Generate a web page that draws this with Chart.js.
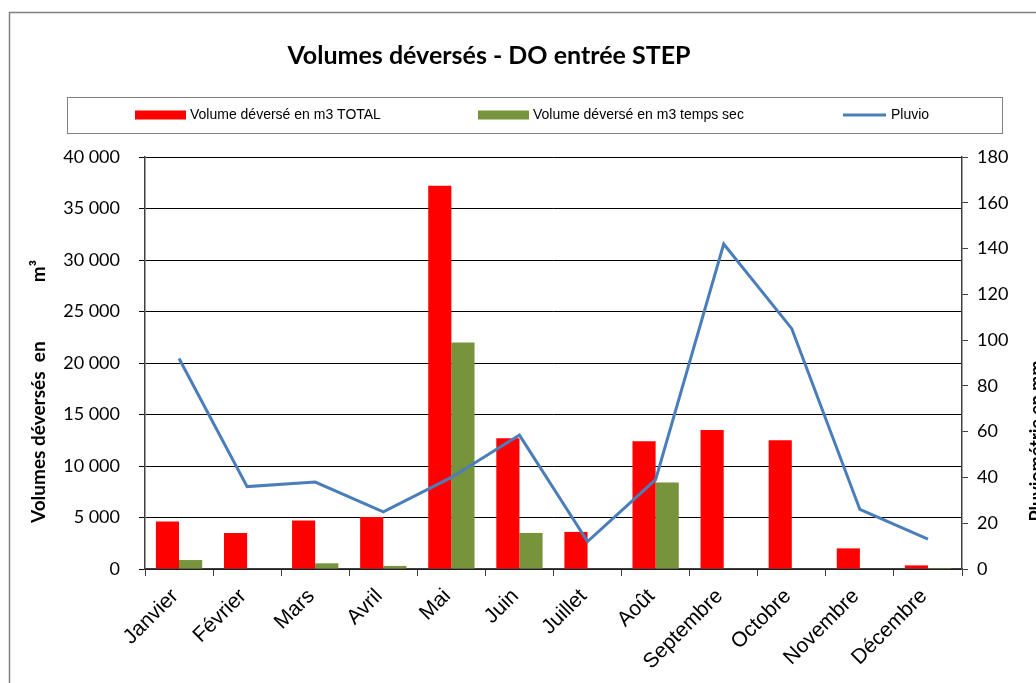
<!DOCTYPE html>
<html lang="fr">
<head>
<meta charset="utf-8">
<title>Volumes déversés - DO entrée STEP</title>
<script src="https://cdn.jsdelivr.net/npm/chart.js@4.4.1/dist/chart.umd.min.js"></script>
<style>
  html, body { margin: 0; padding: 0; background: #fff; }
  #wrap { position: relative; width: 1036px; height: 683px; overflow: hidden; }
</style>
</head>
<body>
<div id="wrap"><canvas id="chart" width="1036" height="683"></canvas></div>
<script>
// ---- data ----
const months = ['Janvier', 'Février', 'Mars', 'Avril', 'Mai', 'Juin', 'Juillet', 'Août', 'Septembre', 'Octobre', 'Novembre', 'Décembre'];
const volumeTotal = [4600, 3500, 4700, 5050, 37200, 12700, 3600, 12400, 13500, 12500, 2000, 350];
const volumeSec = [870, 0, 550, 300, 22000, 3500, 0, 8400, 0, 0, 0, 100];
const pluvio = [92, 36, 38, 25, 40, 58.5, 12, 39, 142, 105, 26, 13];

// axis ranges: [min, max, step]
const volumeAxis = [0, 40000, 5000];
const pluvioAxis = [0, 180, 20];

const chartTitle = 'Volumes déversés - DO entrée STEP';
const leftTitle = ['Volumes déversés  en', 'm³'];
const rightTitle = 'Pluviométrie en mm';

const fmtThousands = v => String(v).replace(/\B(?=(\d{3})+(?!\d))/g, ' ');

// frame, title, boxed legend and axis titles
const decor = {
  id: 'decor',
  beforeDraw(chart) {
    const ctx = chart.ctx;
    ctx.save();
    ctx.fillStyle = '#fff';
    ctx.fillRect(0, 0, chart.width, chart.height);
    ctx.strokeStyle = '#808080';
    ctx.lineWidth = 1.5;
    ctx.strokeRect(9.5, 12.5, chart.width + 20, chart.height + 20);
    ctx.restore();
  },
  afterDraw(chart) {
    const ctx = chart.ctx;
    ctx.save();

    // title
    ctx.fillStyle = '#000';
    ctx.font = 'bold 25px Lato';
    ctx.textAlign = 'center';
    ctx.textBaseline = 'alphabetic';
    ctx.fillText(chartTitle, 489, 64);

    // legend box
    ctx.strokeStyle = '#808080';
    ctx.lineWidth = 1;
    ctx.strokeRect(67.5, 97.5, 935, 36);

    const ds = chart.data.datasets;
    const itemX = [135, 478, 843];
    const ly = 115;
    ctx.font = '14px "Liberation Sans"';
    ctx.textAlign = 'left';
    ctx.textBaseline = 'middle';
    ds.forEach((d, i) => {
      const x = itemX[i];
      if (d.type === 'line') {
        ctx.strokeStyle = d.borderColor;
        ctx.lineWidth = 3;
        ctx.beginPath();
        ctx.moveTo(x, ly);
        ctx.lineTo(x + 43, ly);
        ctx.stroke();
        ctx.fillStyle = '#000';
        ctx.fillText(d.label, x + 48, ly);
      } else {
        ctx.fillStyle = d.backgroundColor;
        ctx.fillRect(x, ly - 4.5, 51, 9);
        ctx.fillStyle = '#000';
        ctx.fillText(d.label, x + 55, ly);
      }
    });

    // axis titles
    ctx.font = 'bold 19px Lato';
    ctx.fillStyle = '#000';
    ctx.textBaseline = 'middle';
    ctx.save();
    ctx.translate(39, 0);
    ctx.rotate(-Math.PI / 2);
    ctx.textAlign = 'left';
    ctx.fillText(leftTitle[0], -523, 0);
    ctx.textAlign = 'right';
    ctx.fillText(leftTitle[1], -260, 0);
    ctx.restore();

    ctx.font = 'bold 18px Lato';
    ctx.save();
    ctx.translate(1037, 441);
    ctx.rotate(-Math.PI / 2);
    ctx.textAlign = 'center';
    ctx.fillText(rightTitle, 0, 0);
    ctx.restore();

    ctx.restore();
  }
};

const tickFont = { family: 'Lato', size: 18 };

new Chart(document.getElementById('chart'), {
  data: {
    labels: months,
    datasets: [
      {
        type: 'bar',
        label: 'Volume déversé en m3 TOTAL',
        data: volumeTotal,
        backgroundColor: '#FF0000',
        yAxisID: 'y',
        order: 1,
        categoryPercentage: 0.68,
        barPercentage: 1.0,
      },
      {
        type: 'bar',
        label: 'Volume déversé en m3 temps sec',
        data: volumeSec,
        backgroundColor: '#77933C',
        yAxisID: 'y',
        order: 1,
        categoryPercentage: 0.68,
        barPercentage: 1.0,
      },
      {
        type: 'line',
        label: 'Pluvio',
        data: pluvio,
        borderColor: '#4A7EBB',
        borderWidth: 3,
        pointRadius: 0,
        tension: 0,
        fill: false,
        yAxisID: 'y1',
        order: 0,
      }
    ]
  },
  options: {
    responsive: false,
    animation: false,
    layout: { padding: { top: 157, left: 0, right: 0, bottom: 0 } },
    plugins: {
      legend: { display: false },
      title: { display: false },
      tooltip: { enabled: false },
    },
    scales: {
      x: {
        grid: { offset: true, drawOnChartArea: false, drawTicks: true, tickLength: 7, color: '#404040' },
        border: { color: '#404040', width: 1.5 },
        ticks: {
          color: '#000',
          font: { family: 'Liberation Sans', size: 21 },
          minRotation: 45,
          maxRotation: 45,
          padding: 8,
          labelOffset: -4,
        },
        afterFit(scale) { scale.height = 114; },
      },
      y: {
        position: 'left',
        min: volumeAxis[0],
        max: volumeAxis[1],
        ticks: { stepSize: volumeAxis[2], color: '#000', font: tickFont, padding: 19, callback: v => fmtThousands(v) },
        grid: { color: '#000', lineWidth: 1, tickLength: 6 },
        border: { color: '#404040', width: 1.5 },
        afterFit(scale) { scale.width = 145; },
      },
      y1: {
        position: 'right',
        min: pluvioAxis[0],
        max: pluvioAxis[1],
        ticks: { stepSize: pluvioAxis[2], color: '#000', font: tickFont, padding: 9 },
        grid: { drawOnChartArea: false, color: '#404040', tickLength: 6 },
        border: { color: '#404040', width: 1.5 },
        afterFit(scale) { scale.width = 74; },
      }
    }
  },
  plugins: [decor]
});
</script>
</body>
</html>
